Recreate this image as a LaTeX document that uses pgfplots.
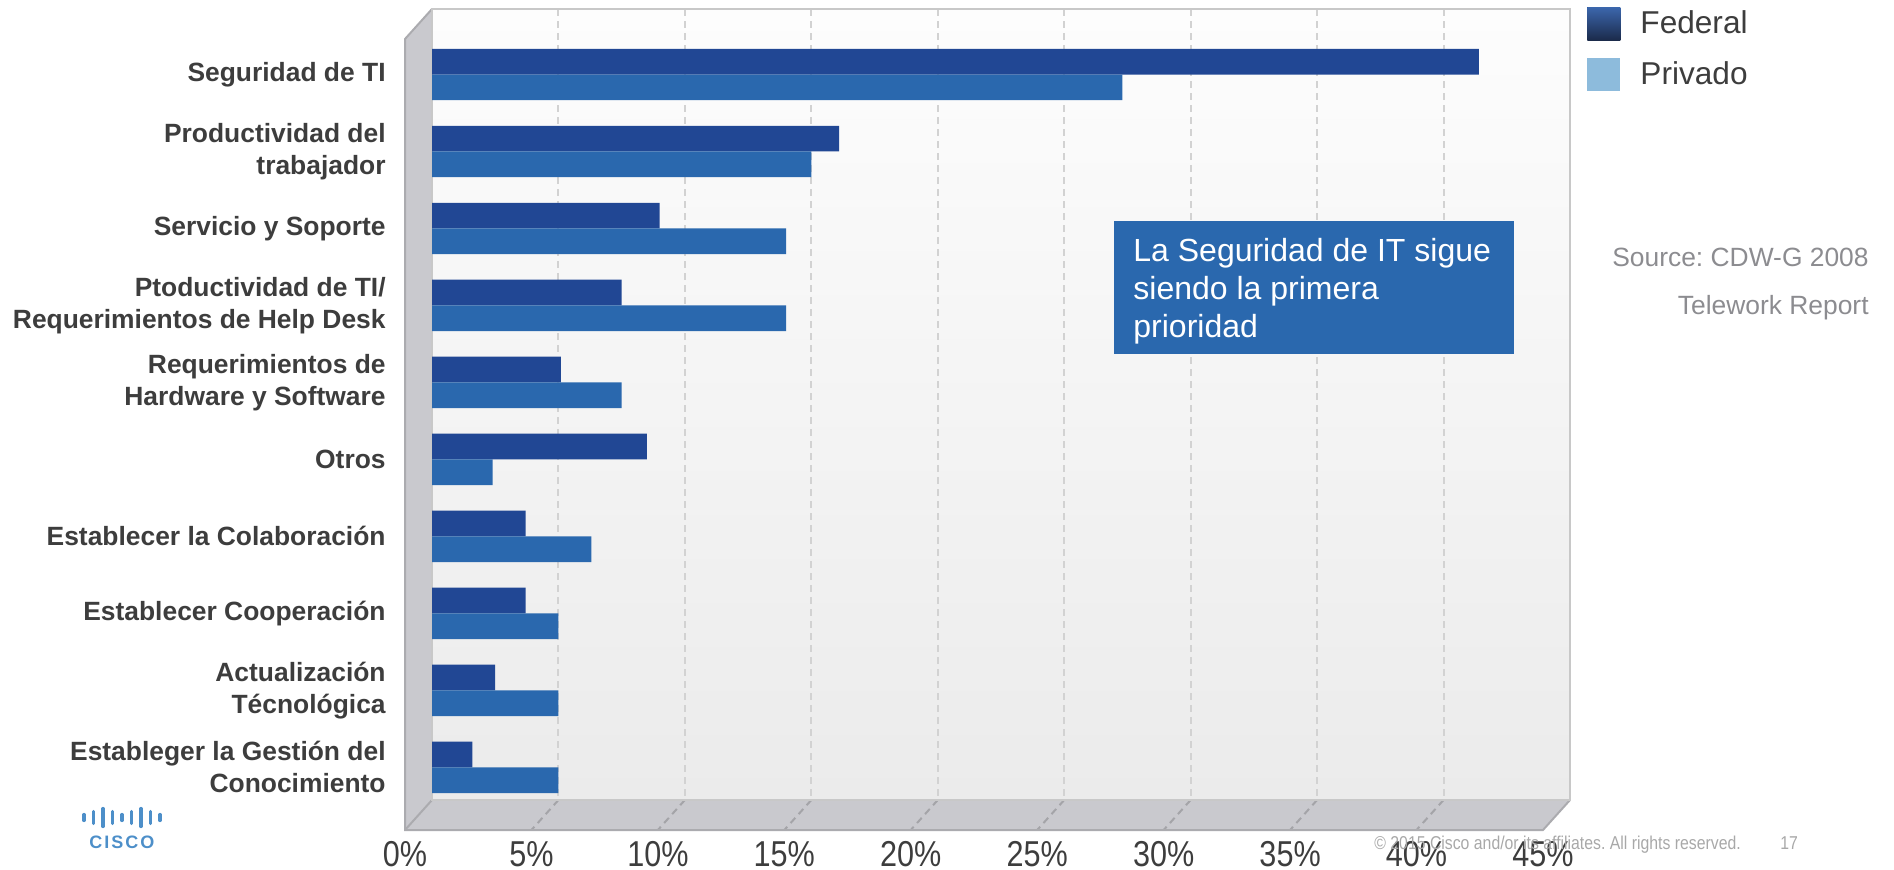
\documentclass[border=0pt]{standalone}
\usepackage{fontspec}
\setmainfont{Liberation Sans}
\newfontfamily\narrowfont[FakeStretch=0.85]{Liberation Sans}
\usepackage{pgfplots}
\usepackage{pgfplotstable}
\pgfplotsset{compat=1.18}
\definecolor{fed}{HTML}{214794}
\definecolor{priv}{HTML}{2A68AE}
\definecolor{lbl}{HTML}{3D3D3D}
\definecolor{side}{HTML}{C9C9CE}
\definecolor{sideedge}{HTML}{ABABAF}
\definecolor{gridc}{HTML}{D2D2D2}
\definecolor{floorgrid}{HTML}{A4A4A8}
\definecolor{frame}{HTML}{C8C8C8}
\definecolor{walltop}{HTML}{FDFDFD}
\definecolor{wallbot}{HTML}{EBEBEB}
\definecolor{src}{HTML}{8C8C90}
\definecolor{copyc}{HTML}{A8A8A8}
\definecolor{ciscoblue}{HTML}{4D8FC9}
\definecolor{legtop}{HTML}{3B66AC}
\definecolor{legbot}{HTML}{1B2A4A}
\definecolor{legpriv}{HTML}{8DBBDC}

\pgfplotstableread{
k federal privado
0 41.4 27.3
1 16.1 15.0
2 9.0  14.0
3 7.5  14.0
4 5.1  7.5
5 8.5  2.4
6 3.7  6.3
7 3.7  5.0
8 2.5  5.0
9 1.6  5.0
}\datatable

\begin{document}
\frenchspacing
\begin{tikzpicture}
\path[use as bounding box] (0pt,0pt) rectangle (947pt,-435pt);
\begin{scope}[x=0.5pt,y=-0.5pt]
  % back wall
  \shade[top color=walltop, bottom color=wallbot] (432,9) rectangle (1570,800);
  % side wall
  \fill[side] (405,39) -- (432,9) -- (432,800) -- (405,830) -- cycle;
  % floor
  \fill[side] (432,800) -- (1570,800) -- (1543,830) -- (405,830) -- cycle;
  \foreach \i in {1,...,8}
    \draw[floorgrid, line width=1pt, dash pattern=on 3.5pt off 2.5pt] ({432+126.44*\i},800) -- ({405+126.44*\i},830);
  \draw[sideedge, line width=1pt] (432,9) -- (405,39) -- (405,830) -- (1543,830) -- (1570,800);
  \draw[sideedge, line width=1pt] (405,830) -- (432,800);
\end{scope}

\begin{axis}[
  at={(216pt,-400pt)}, anchor=south west,
  scale only axis, width=569pt, height=395.5pt,
  xmin=0, xmax=45, ymin=-0.851, ymax=9.425, y dir=reverse,
  xbar, bar width=0.334,
  xtick={0,5,...,45},
  xticklabels={0\%,5\%,10\%,15\%,20\%,25\%,30\%,35\%,40\%,45\%},
  xticklabel style={font=\narrowfont\fontsize{18pt}{18pt}\selectfont, text=lbl, anchor=base, yshift=-33pt, xshift=-13.5pt, inner sep=0pt},
  ytick={0,...,9},
  yticklabels={
    {Seguridad de TI},
    {Productividad del\\trabajador},
    {Servicio y Soporte},
    {Ptoductividad de TI/\\Requerimientos de Help Desk},
    {Requerimientos de\\Hardware y Software},
    {Otros},
    {Establecer la Colaboración},
    {Establecer Cooperación},
    {Actualización\\Técnológica},
    {Estableger la Gestión del\\Conocimiento}},
  yticklabel style={font=\bfseries\fontsize{13.2pt}{16pt}\selectfont, text=lbl, align=right, anchor=east, xshift=-23pt, inner sep=0pt},
  major tick length=0pt,
  xmajorgrids, grid style={gridc, line width=1pt, dash pattern=on 3.5pt off 2.5pt},
  axis line style={draw=frame, line width=1pt},
  legend style={at={(1.015,1.0025)}, anchor=north west, draw=none, fill=none,
    font=\fontsize{15.8pt}{18pt}\selectfont, text=lbl, inner sep=0pt,
    row sep=9pt, nodes={inner sep=0pt},
    /tikz/every odd column/.append style={column sep=10pt}},
  legend cell align=left,
]
\addplot[fill=fed, draw=none, bar shift=-0.167,
  legend image code/.code={\shade[top color=legtop, bottom color=legbot] (0pt,-8.25pt) rectangle (16.5pt,8.25pt);}]
  table[x=federal, y=k] {\datatable};
\addlegendentry{Federal}
\addplot[fill=priv, draw=none, bar shift=0.167,
  legend image code/.code={\fill[legpriv] (0pt,-8.25pt) rectangle (16.5pt,8.25pt);}]
  table[x=privado, y=k] {\datatable};
\addlegendentry{Privado}
\end{axis}

\begin{scope}[x=0.5pt,y=-0.5pt]
  % annotation box
  \fill[priv] (1114,221) rectangle (1514,354);
  \node[anchor=north west, inner sep=0pt, align=left, text=white,
        font=\fontsize{16pt}{19pt}\selectfont] at (1133,237.5)
        {La Seguridad de IT sigue\\siendo la primera\\prioridad};
  % source
  \node[anchor=base east, inner sep=0pt, text=src, font=\fontsize{13.2pt}{14pt}\selectfont] at (1869,267) {Source: CDW-G 2008};
  \node[anchor=base east, inner sep=0pt, text=src, font=\fontsize{13.2pt}{14pt}\selectfont] at (1869,315) {Telework Report};
  % copyright
  \node[anchor=base west, inner sep=0pt, text=copyc, font=\narrowfont\fontsize{9.3pt}{10pt}\selectfont] at (1374,849) {© 2015 Cisco and/or its affiliates. All rights reserved.};
  \node[anchor=base west, inner sep=0pt, text=copyc, font=\narrowfont\fontsize{9.3pt}{10pt}\selectfont] at (1780,849) {17};
  % cisco logo
  \foreach \xx/\hh in {84/3,93.5/6,103/9,112.5/6,122/3,131.5/6,141/9,150.5/6,160/3}
    \draw[ciscoblue, line width=1.6pt, line cap=round] (\xx,{817.5-\hh}) -- (\xx,{817.5+\hh});
  \node[anchor=base, inner sep=0pt, text=ciscoblue, font=\bfseries\fontsize{9pt}{10pt}\selectfont] at (122,848) {C\kern1ptI\kern1ptS\kern1ptC\kern1ptO};
\end{scope}
\end{tikzpicture}
\end{document}
